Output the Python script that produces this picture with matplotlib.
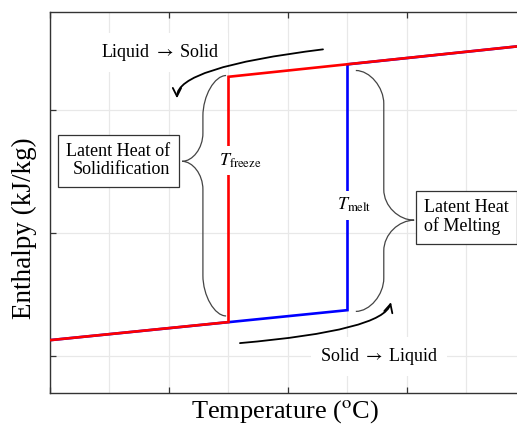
import matplotlib
matplotlib.use("Agg")
import matplotlib.pyplot as plt
from matplotlib.path import Path
from matplotlib.patches import PathPatch

plt.rcParams['font.family'] = ['Liberation Serif', 'DejaVu Serif']
plt.rcParams['mathtext.fontset'] = 'stix'

# Phase-change temperatures (arbitrary units)
T_freeze = 3.0
T_melt = 5.0

# Heating path: solid warms, melts at T_melt, liquid warms
temp_heat = [0.0, 5.0, 5.0, 7.85]
enthalpy_heat = [1.13, 1.374, 3.374, 3.52]

# Cooling path: liquid cools, freezes at T_freeze, solid cools
temp_cool = [7.85, 3.0, 3.0, 0.0]
enthalpy_cool = [3.52, 3.273, 1.277, 1.13]

x_major = [0, 2, 4, 6]
x_minor = [1, 3, 5, 7]
y_major = [1, 2, 3]

fig = plt.figure(figsize=(5.17, 4.26), dpi=100)
ax = fig.add_axes([50 / 517, 33 / 426, 467 / 517, 381 / 426])
ax.set_xlim(0, 7.849)
ax.set_ylim(0.7, 3.8)

ax.set_xticks(x_major)
ax.set_xticks(x_minor, minor=True)
ax.set_yticks(y_major)
ax.grid(True, which='both', axis='x', color='#e8e8e8', lw=0.9)
ax.grid(True, which='major', axis='y', color='#e8e8e8', lw=0.9)
ax.set_axisbelow(True)
ax.tick_params(which='major', direction='in', length=4, width=0.9,
               color='#333333', top=True, right=False,
               labelbottom=False, labelleft=False)
ax.tick_params(which='minor', length=0)
for side in ['left', 'top', 'bottom']:
    ax.spines[side].set_color('#333333')
    ax.spines[side].set_linewidth(1.0)
ax.spines['right'].set_visible(False)

ax.plot(temp_heat, enthalpy_heat, color='#0000ff', lw=1.9, zorder=2,
        solid_joinstyle='miter')
ax.plot(temp_cool, enthalpy_cool, color='#ff0000', lw=1.9, zorder=3,
        solid_joinstyle='miter')


def brace(x_end, y_top, y_bot, x_mid, x_tip, y_tip, r_end, r_tip):
    k = 0.5
    verts = [
        (x_end, y_top),
        (x_mid + k * (x_end - x_mid), y_top),
        (x_mid, y_top - 0.5 * r_end),
        (x_mid, y_top - r_end),
        (x_mid, y_tip + r_tip),
        (x_mid, y_tip + 0.45 * r_tip),
        (x_tip + k * (x_mid - x_tip), y_tip),
        (x_tip, y_tip),
        (x_tip + k * (x_mid - x_tip), y_tip),
        (x_mid, y_tip - 0.45 * r_tip),
        (x_mid, y_tip - r_tip),
        (x_mid, y_bot + r_end),
        (x_mid, y_bot + 0.5 * r_end),
        (x_mid + k * (x_end - x_mid), y_bot),
        (x_end, y_bot),
    ]
    codes = [Path.MOVETO,
             Path.CURVE4, Path.CURVE4, Path.CURVE4,
             Path.LINETO,
             Path.CURVE4, Path.CURVE4, Path.CURVE4,
             Path.CURVE4, Path.CURVE4, Path.CURVE4,
             Path.LINETO,
             Path.CURVE4, Path.CURVE4, Path.CURVE4]
    ax.add_patch(PathPatch(Path(verts, codes), fc='none', ec='#444444',
                           lw=0.9, zorder=4))


# Latent heat of solidification (left brace at T_freeze)
brace(T_freeze - 0.04, enthalpy_cool[1] + 0.01, enthalpy_cool[2] + 0.05,
      T_freeze - 0.43, T_freeze - 0.78, 2.585, 0.33, 0.23)
# Latent heat of melting (right brace at T_melt)
brace(T_melt + 0.14, enthalpy_heat[2] - 0.05, enthalpy_heat[1] - 0.01,
      T_melt + 0.61, T_melt + 1.12, 2.106, 0.27, 0.25)

fs = 13
ax.text(1.151, 2.589, 'Latent Heat of\nSolidification', fontsize=fs,
        ha='center', va='center', multialignment='right', linespacing=1.1,
        bbox=dict(boxstyle='square,pad=0.45', fc='white', ec='#333333',
                  lw=0.9), zorder=5)
ax.text(6.286, 2.13, 'Latent Heat\nof Melting', fontsize=fs,
        ha='left', va='center', multialignment='left', linespacing=1.1,
        bbox=dict(boxstyle='square,pad=0.45', fc='white', ec='#333333',
                  lw=0.9), zorder=5, clip_on=False)

ax.text(3.2, 2.59, r'$T_{\mathrm{freeze}}$', fontsize=fs, ha='center',
        va='center',
        bbox=dict(boxstyle='square,pad=0.3', fc='white', ec='none'),
        zorder=5)
ax.text(5.12, 2.228, r'$T_{\mathrm{melt}}$', fontsize=fs, ha='center',
        va='center',
        bbox=dict(boxstyle='square,pad=0.3', fc='white', ec='none'),
        zorder=5)

ax.text(1.849, 3.472, r'Liquid $\rightarrow$ Solid', fontsize=fs,
        ha='center', va='center',
        bbox=dict(boxstyle='square,pad=0.5', fc='white', ec='none'),
        zorder=1.5)
ax.text(5.53, 1.0, r'Solid $\rightarrow$ Liquid', fontsize=fs,
        ha='center', va='center',
        bbox=dict(boxstyle='square,pad=0.5', fc='white', ec='none'),
        zorder=1.5)

arrow_kw = dict(arrowstyle='->,head_length=0.6,head_width=0.3', color='black',
                lw=1.3, shrinkA=0, shrinkB=0)
ax.annotate('', xy=(2.134, 3.098), xytext=(4.588, 3.496),
            arrowprops=dict(connectionstyle='angle3,angleA=7,angleB=90',
                            **arrow_kw), zorder=6)
ax.annotate('', xy=(5.731, 1.439), xytext=(3.193, 1.106),
            arrowprops=dict(connectionstyle='angle3,angleA=5,angleB=75',
                            **arrow_kw), zorder=6)

fig.text(285.5 / 517, 1 - 412 / 426, r'Temperature ($^{\mathrm{o}}$C)',
         fontsize=19, ha='center', va='center')
fig.text(24 / 517, 1 - 228 / 426, 'Enthalpy (kJ/kg)', fontsize=19.5,
         rotation=90, ha='center', va='center')

fig.savefig('out.png', dpi=100)
